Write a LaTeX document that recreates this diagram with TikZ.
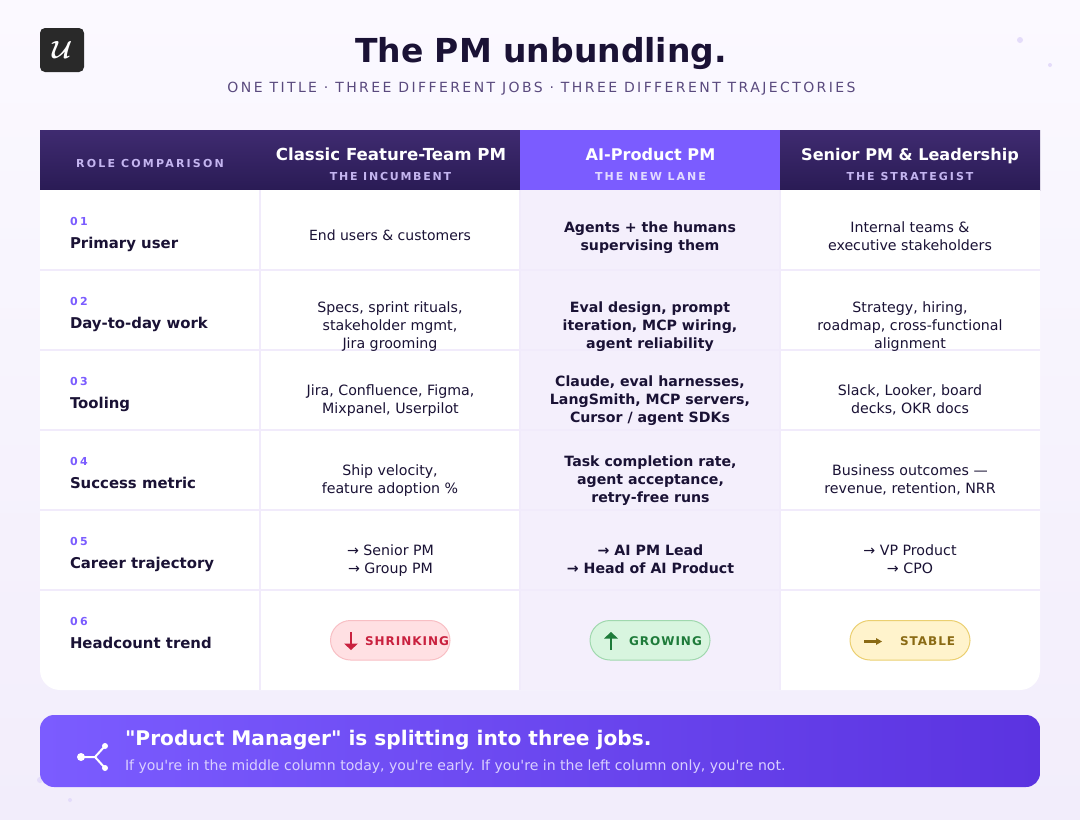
\documentclass[tikz,border=0pt]{standalone}
\usepackage{fontspec}
\setmainfont{DejaVu Sans}[Ligatures=TeXOff]
\DeclareMathAlphabet{\mathbcal}{OMS}{cmsy}{b}{n}
\definecolor{bgtop}{HTML}{FBF9FF}
\definecolor{bgbot}{HTML}{F2EDFB}
\definecolor{headtop}{HTML}{3F2B70}
\definecolor{headbot}{HTML}{2A1B55}
\definecolor{violet}{HTML}{7B5CFF}
\definecolor{violetdark}{HTML}{5B33E0}
\definecolor{ink}{HTML}{1A1235}
\definecolor{subink}{HTML}{5A4A7E}
\definecolor{lilac}{HTML}{C4B5F0}
\definecolor{lilaclight}{HTML}{E2DAFF}
\definecolor{grid}{HTML}{F1EBFB}
\definecolor{midcol}{HTML}{F4EFFC}
\definecolor{dot}{HTML}{E4DCFA}
\definecolor{redfill}{HTML}{FFE0E3}\definecolor{redline}{HTML}{F8BFC4}\definecolor{redtext}{HTML}{C9213F}
\definecolor{greenfill}{HTML}{D8F5DF}\definecolor{greenline}{HTML}{A0D8AE}\definecolor{greentext}{HTML}{1E7B3A}
\definecolor{yellowfill}{HTML}{FFF3CC}\definecolor{yellowline}{HTML}{EBCF70}\definecolor{yellowtext}{HTML}{8A6A14}
\definecolor{bannersub}{HTML}{DAD0FF}
\newcommand{\fs}[2]{\fontsize{#1}{#2}\selectfont}
\newcommand{\spc}[1]{\addfontfeature{LetterSpace=#1}}
\tikzset{
  x=1pt,y=-1pt,
  every node/.style={inner sep=0pt,outer sep=0pt},
  txt/.style={anchor=base,text=ink},
  title/.style={txt,font=\fs{33}{40}\bfseries},
  subtitle/.style={txt,text=subink,font=\fs{14}{18}\spc{17.3}},
  rolehead/.style={txt,text=lilac,font=\fs{11}{14}\bfseries\spc{20}},
  colhead/.style={txt,text=white,font=\fs{16.1}{20}\bfseries},
  colsub/.style={txt,text=lilac,font=\fs{11}{14}\bfseries\spc{18}},
  rownum/.style={txt,anchor=base west,text=violet,font=\fs{11}{14}\bfseries\spc{23}},
  rowname/.style={txt,anchor=base west,font=\fs{14.9}{20}\bfseries},
  cell/.style={anchor=base,align=center,text=ink,font=\fs{14.2}{18}},
  cellb/.style={anchor=base,align=center,text=ink,font=\fs{14.15}{18}\bfseries},
  gridline/.style={draw=grid,line width=2pt},
  pill/.style={rounded corners=20pt,line width=1pt},
  pilltext/.style={txt,anchor=base west,font=\fs{12}{14}\bfseries\spc{8.3}},
  icon/.style={line width=2pt,draw=white},
  deco/.style={fill=dot,draw=none},
}
\begin{document}
\begin{tikzpicture}
\useasboundingbox (0,0) rectangle (1080,820);
\shade[top color=bgtop,bottom color=bgbot] (0,0) rectangle (1080,820);
% decoration dots
\fill[deco] (1020,40) circle (3);
\fill[deco] (1050,65) circle (2);
\fill[deco] (40,780) circle (3);
\fill[deco] (70,800) circle (2);
% logo
\node[fill=black!84,rounded corners=5pt,minimum width=44pt,minimum height=44pt,text=white] (logo) at (62,50) {\fontsize{24}{24}\selectfont$\mathbcal{U}$};
% title
\node[title] (ttl) at (541,62) {The PM unbundling.};
\node[subtitle] (sub) at (541.5,92) {ONE TITLE · THREE DIFFERENT JOBS · THREE DIFFERENT TRAJECTORIES};
% header
\shade[top color=headtop,bottom color=headbot] (40,130) rectangle (520,190);
\shade[top color=headtop,bottom color=headbot] (780,130) rectangle (1040,190);
\fill[violet] (520,130) rectangle (780,190);
% table body
\fill[white] (40,190) rectangle (1040,400);
\fill[white,rounded corners=20pt] (40,300) rectangle (1040,690);
\fill[midcol] (520,190) rectangle (780,690);
\foreach \y in {270,350,430,510,590} \draw[gridline] (40,\y) -- (1040,\y);
\foreach \x in {260,520,780} \draw[gridline] (\x,190) -- (\x,690);
\node[rolehead] (h0) at (150,167) {ROLE COMPARISON};
\node[colhead,font=\fs{16.6}{20}\bfseries] (h1) at (391,160) {Classic Feature-Team PM};
\node[colsub,font=\fs{11}{14}\bfseries\spc{16}] (h1s) at (390.5,180) {THE INCUMBENT};
\node[colhead] (h2) at (650.5,160) {AI-Product PM};
\node[colsub,text=lilaclight] (h2s) at (650.5,180) {THE NEW LANE};
\node[colhead] (h3) at (910,160) {Senior PM \& Leadership};
\node[colsub] (h3s) at (910,180) {THE STRATEGIST};
% row labels
\node[rownum] (n1) at (70,225) {01};  \node[rowname] (r1) at (70,248) {Primary user};
\node[rownum] (n2) at (70,305) {02};  \node[rowname] (r2) at (70,328) {Day-to-day work};
\node[rownum] (n3) at (70,385) {03};  \node[rowname] (r3) at (70,408) {Tooling};
\node[rownum] (n4) at (70,465) {04};  \node[rowname] (r4) at (70,488) {Success metric};
\node[rownum] (n5) at (70,545) {05};  \node[rowname] (r5) at (70,568) {Career trajectory};
\node[rownum] (n6) at (70,625) {06};  \node[rowname] (r6) at (70,648) {Headcount trend};
% cells
\node[cell,font=\fs{14}{18}]  (c11) at (390,240) {End users \& customers};
\node[cellb] (c12) at (650,250) {Agents + the humans\\supervising them};
\node[cell]  (c13) at (910,250) {Internal teams \&\\executive stakeholders};
\node[cell]  (c21) at (390,348) {Specs, sprint rituals,\\stakeholder mgmt,\\Jira grooming};
\node[cellb] (c22) at (650,348) {Eval design, prompt\\iteration, MCP wiring,\\agent reliability};
\node[cell]  (c23) at (910,348) {Strategy, hiring,\\roadmap, cross-functional\\alignment};
\node[cell]  (c31) at (390.5,413) {Jira, Confluence, Figma,\\Mixpanel, Userpilot};
\node[cellb] (c32) at (650,422) {Claude, eval harnesses,\\LangSmith, MCP servers,\\Cursor / agent SDKs};
\node[cell]  (c33) at (910,413) {Slack, Looker, board\\decks, OKR docs};
\node[cell]  (c41) at (390,493) {Ship velocity,\\feature adoption \%};
\node[cellb] (c42) at (650.5,502) {Task completion rate,\\agent acceptance,\\retry-free runs};
\node[cell]  (c43) at (910,493) {Business outcomes —\\revenue, retention, NRR};
\node[cell]  (c51) at (390.5,573) {→ Senior PM\\→ Group PM};
\node[cellb] (c52) at (650.5,573) {→ AI PM Lead\\→ Head of AI Product};
\node[cell]  (c53) at (910,573) {→ VP Product\\→ CPO};
% pills
\draw[pill,fill=redfill,draw=redline] (330.5,620.5) rectangle (450,660);
\draw[pill,fill=greenfill,draw=greenline] (590,620.5) rectangle (710,660);
\draw[pill,fill=yellowfill,draw=yellowline] (850,620.5) rectangle (970,660);
\coordinate (ra) at (351,632); \coordinate (rb) at (351,645);
\coordinate (ga) at (611,650); \coordinate (gb) at (611,638);
\coordinate (ya) at (864,641.5); \coordinate (yb) at (877,641.5);
\draw[redtext,line width=1.7pt] (ra) -- (rb);
\fill[redtext] (344,643.5) -- (358,643.5) -- (351,650) -- cycle;
\draw[greentext,line width=1.7pt] (ga) -- (gb);
\fill[greentext] (604,638.5) -- (618,638.5) -- (611,632) -- cycle;
\draw[yellowtext,line width=2.4pt] (ya) -- (yb);
\fill[yellowtext] (876,638) -- (876,645) -- (882,641.5) -- cycle;
\node[pilltext,text=redtext] (p1) at (365,645.5) {SHRINKING};
\node[pilltext,text=greentext] (p2) at (629,645.5) {GROWING};
\node[pilltext,text=yellowtext] (p3) at (900,645.5) {STABLE};
% banner
\shade[left color=violet,right color=violetdark,rounded corners=14pt] (40,715) rectangle (1040,787);
\coordinate (j) at (95,757);
\coordinate (ia) at (81,757); \coordinate (ib) at (105,746); \coordinate (ic) at (105,768);
\draw[icon] (ia) -- (j) -- (ib);
\draw[icon] (j) -- (ic);
\fill[white] (ia) circle (4) (ib) circle (3) (ic) circle (3);
\node[txt,anchor=base west,text=white,font=\fs{20.15}{24}\bfseries] (b1) at (125,745) {"Product Manager" is splitting into three jobs.};
\node[txt,anchor=base west,text=bannersub,font=\fs{14.05}{18}] (b2) at (125,770) {If you're in the middle column today, you're early. If you're in the left column only, you're not.};
\end{tikzpicture}
\end{document}
